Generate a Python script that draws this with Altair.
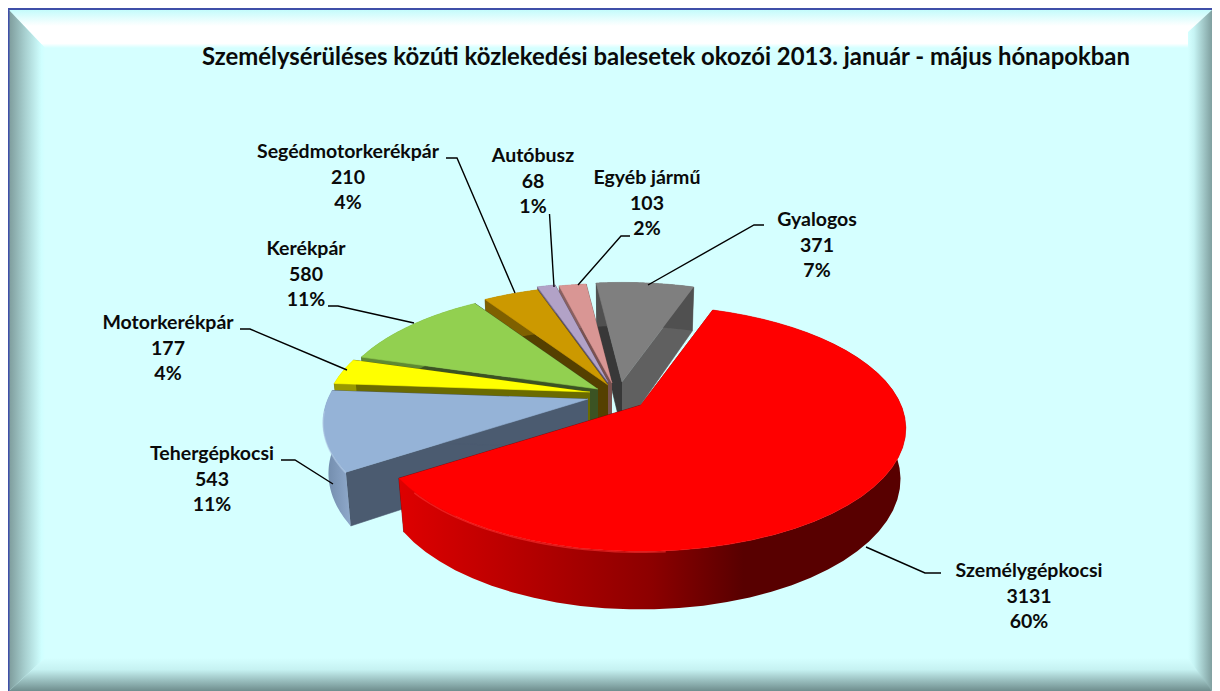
import math
import altair as alt
import pandas as pd

TITLE = "Személysérüléses közúti közlekedési balesetek okozói 2013. január - május hónapokban"
names = ["Személygépkocsi", "Tehergépkocsi", "Motorkerékpár", "Kerékpár",
         "Segédmotorkerékpár", "Autóbusz", "Egyéb jármű", "Gyalogos"]
values = [3131, 543, 177, 580, 210, 68, 103, 371]
percents = ["60%", "11%", "4%", "11%", "4%", "1%", "2%", "7%"]

# ---- layout / style (image pixel space, the x and y scales map it onto the plot) ----
W, H = 1204, 683
OX, OY = 8, 8
BG = "#D5FFFF"
FONT = "Lato"
sx = alt.Scale(domain=[OX, OX + W], range=[0, W])
sy = alt.Scale(domain=[OY, OY + H], range=[0, H])

START = 19.0
R, RY, K, D0, SHRINK = 260.0, 118.5, 0.19, 49.5, 0.98
CENTER = (606, 392)
EXPLODE = [(35, 13), (-18, 7), (-16, 0), (-8, -3), (2, -7), (2, -10), (6, -9), (16, -10)]
TOPS = ["#FF0000", "#95B3D7", "#FFFF00", "#92D050", "#CC9900", "#B2A2C7", "#D99694", "#7F7F7F"]
FACE_A = ["#800000", "#4B5B70", "#6B6B00", "#3B5323", "#554000", "#5F5670", "#7A5250", "#383838"]
FACE_B = ["#800000", "#4B5B70", "#6B6B00", "#3B5323", "#554000", "#5F5670", "#7A5250", "#606060"]
WALLS = [
    [(0, "#DE0000"), (0.5, "#8C0000"), (0.68, "#580000"), (1, "#580000")],
    [(0, "#6E88A8"), (1, "#8FA9CB")],
    [(0, "#9A9A00"), (1, "#9A9A00")],
    [(0, "#5F8A33"), (1, "#5F8A33")],
    [(0, "#7F6000"), (1, "#7F6000")],
    [(0, "#6F6580"), (1, "#6F6580")],
    [(0, "#8A6060"), (1, "#8A6060")],
    [(0, "#505050"), (1, "#505050")],
]
# slice index -> (from, to, colour) of the soft highlight along the front rim, as share of the slice
HIGHLIGHTS = {0: (0.72, 0.97, "#FF3030"), 1: (0.0, 0.75, "#B4CBE8")}


def grad(stops, x2=1, y2=0):
    return alt.Gradient(gradient="linear", x1=0, y1=0, x2=x2, y2=y2,
                        stops=[alt.GradientStop(offset=o, color=c) for o, c in stops])


def poly(points, fill, stroke=None):
    df = pd.DataFrame({"x": [p[0] for p in points], "y": [p[1] for p in points],
                       "i": list(range(len(points)))})
    kw = dict(stroke=stroke, strokeWidth=0.6) if stroke else dict(strokeWidth=0, strokeOpacity=0)
    return alt.Chart(df).mark_line(fill=fill, interpolate="linear", **kw).encode(
        x=alt.X("x:Q", scale=sx, axis=None),
        y=alt.Y("y:Q", scale=sy, axis=None),
        order=alt.Order("i:Q"),
    )


def polyline(points, color, width, opacity=1.0):
    df = pd.DataFrame({"x": [p[0] for p in points], "y": [p[1] for p in points],
                       "i": list(range(len(points)))})
    return alt.Chart(df).mark_line(color=color, strokeWidth=width, opacity=opacity).encode(
        x=alt.X("x:Q", scale=sx, axis=None), y=alt.Y("y:Q", scale=sy, axis=None),
        order=alt.Order("i:Q"))


def rim(apex, deg, low=False):
    t = math.radians(deg)
    X, Y = math.sin(t), math.cos(t)
    den = 1 + K * Y
    px, py = R * X / den, -RY * Y / den
    if not low:
        return (apex[0] + px, apex[1] + py)
    return (apex[0] + px * SHRINK, apex[1] + py * SHRINK + D0 / den)


def steps(a, b, n=48):
    return [a + (b - a) * j / n for j in range(n + 1)]


layers = []

# ---- background frame ----
L, T, RR, B = 8, 8, OX + W, 691
layers.append(poly([(L, T), (RR, T), (RR, B), (L, B)], BG))
layers.append(poly([(L + 1, T + 2), (RR, T + 2), (RR - 24, 48), (45, 48)],
                   grad([(0, "#C4FBFB"), (0.42, "#FFFFFF"), (0.88, "#FFFFFF"), (1, BG)], 0, 1)))
layers.append(poly([(L + 1, T + 2), (45, 48), (45, 658), (L + 1, B)],
                   grad([(0, "#7E9C9C"), (0.45, "#A8D0D0"), (0.9, "#CFFFFF"), (1, BG)])))
layers.append(poly([(RR, T + 2), (RR, B), (RR - 24, 665), (RR - 24, 32)],
                   grad([(0, BG), (0.25, "#C6F4F4"), (1, "#7F9F9F")])))
layers.append(poly([(L + 1, B), (45, 658), (RR - 24, 658), (RR, B)],
                   grad([(0, BG), (0.35, "#C6F2F2"), (1, "#6F8E8E")], 0, 1)))
layers.append(poly([(L, T), (RR, T), (RR, T + 2), (L, T + 2)], "#3F4FA8"))
layers.append(poly([(L, T), (L + 1.5, T), (L + 1.5, B), (L, B)], "#3F4FA8"))

# ---- slices, cumulative angles come from the values ----
total = sum(values)
angles = []
cur = START
for v in values:
    angles.append((cur, cur + 360.0 * v / total))
    cur += 360.0 * v / total

for i in [7, 6, 5, 4, 3, 2, 1, 0]:
    a0, a1 = angles[i]
    apex = (CENTER[0] + EXPLODE[i][0], CENTER[1] + EXPLODE[i][1])
    apex_low = (apex[0], apex[1] + D0)
    layers.append(poly([apex, rim(apex, a0), rim(apex, a0, True), apex_low], FACE_A[i], FACE_A[i]))
    layers.append(poly([apex, rim(apex, a1), rim(apex, a1, True), apex_low], FACE_B[i], FACE_B[i]))
    ts = steps(a0, a1)
    layers.append(poly([rim(apex, t) for t in ts] + [rim(apex, t, True) for t in reversed(ts)],
                       grad(WALLS[i])))
    layers.append(poly([apex] + [rim(apex, t) for t in ts], TOPS[i], TOPS[i]))
    if i in HIGHLIGHTS:
        f0, f1, col = HIGHLIGHTS[i]
        span = steps(a0 + (a1 - a0) * f0, a0 + (a1 - a0) * f1, 30)
        layers.append(polyline([(rim(apex, t)[0], rim(apex, t)[1] + 1.0) for t in span], col, 1.4, 0.6))

# ---- leader lines ----
leaders = [
    [(941, 573), (925, 573), (866, 547)],
    [(281, 460), (295, 460), (333, 484)],
    [(240, 329), (250, 329), (347, 370)],
    [(328, 306), (338, 306), (414, 323)],
    [(446, 158), (457, 158), (515, 293)],
    [(549.5, 214), (554, 287)],
    [(630, 236), (621, 236), (578, 285)],
    [(764, 225), (754, 225), (648, 285)],
]
for pts in leaders:
    layers.append(polyline(pts, "#000000", 1.4))

# ---- labels ----
label_pos = [(1029, 571), (212, 454), (168, 323), (306, 249),
             (348, 152), (533, 156), (647, 178), (817, 220)]
rows = []
for n, v, p, (lx, ly) in zip(names, values, percents, label_pos):
    for j, txt in enumerate([n, str(v), p]):
        rows.append({"t": txt, "x": lx, "y": ly + j * 25.5})
layers.append(alt.Chart(pd.DataFrame(rows)).mark_text(
    font=FONT, fontWeight="bold", fontSize=19.5, color="#0A0A0A", align="center", baseline="middle"
).encode(x=alt.X("x:Q", scale=sx, axis=None), y=alt.Y("y:Q", scale=sy, axis=None), text="t:N"))

layers.append(alt.Chart(pd.DataFrame({"t": [TITLE], "x": [666], "y": [58]})).mark_text(
    font=FONT, fontWeight="bold", fontSize=23.9, color="#0A0A0A", align="center", baseline="middle"
).encode(x=alt.X("x:Q", scale=sx, axis=None), y=alt.Y("y:Q", scale=sy, axis=None), text="t:N"))

chart = alt.layer(*layers).properties(
    width=W, height=H, padding=0, autosize=alt.AutoSizeParams(type="none"), background=BG
).configure_view(stroke=None)

chart.save("out.html", embed_options={"renderer": "svg", "actions": False})
